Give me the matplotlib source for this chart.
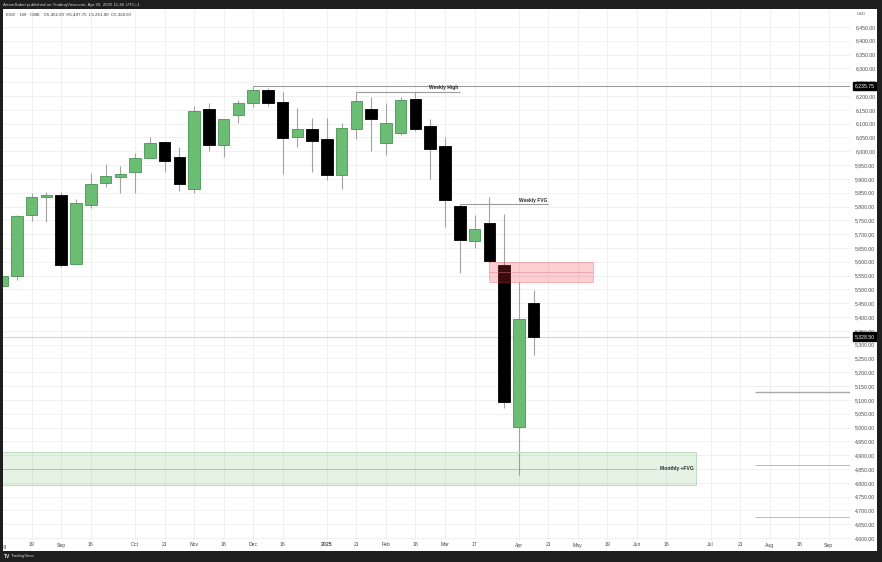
import matplotlib
matplotlib.use("Agg")
import matplotlib.pyplot as plt
import matplotlib.dates as mdates
import matplotlib.transforms as mtransforms
from matplotlib.patches import Rectangle
import numpy as np
import pandas as pd

# ---------------- data ----------------
first_week = "2024-08-05"
opens  = [5513, 5549, 5768, 5834, 5841, 5593, 5807, 5884, 5907, 5926, 5977, 6035, 5980,
          5865, 6153, 6023, 6130, 6176, 6221, 6180, 6052, 6080, 6045, 5913, 6082, 6152,
          6031, 6065, 6189, 6092, 6018, 5803, 5676, 5739, 5587, 5003, 5452.50]
highs  = [5552, 5770, 5848, 5854, 5854, 5826, 5920, 5953, 5947, 5993, 6051, 6037, 6017,
          6164, 6176, 6118, 6186, 6235.75, 6229, 6214, 6156, 6119, 6119, 6104, 6214, 6198,
          6174, 6198, 6216, 6116, 6050, 5808, 5769, 5836, 5772, 5528, 5497.75]
lows   = [5510, 5534, 5749, 5745, 5580, 5590, 5794, 5870, 5848, 5848, 5974, 5926, 5856,
          5848, 6001, 5980, 6101, 6161, 6164, 5917, 6017, 5926, 5896, 5862, 6045, 6001,
          5987, 6060, 6075, 5899, 5725, 5560, 5649, 5600, 5072, 4828, 5261.00]
closes = [5548, 5766, 5836, 5842, 5588, 5812, 5881, 5909, 5919, 5977, 6031, 5966, 5883,
          6147, 6024, 6116, 6175, 6221, 6175, 6047, 6080, 6036, 5913, 6083, 6182, 6116,
          6101, 6186, 6080, 6007, 5824, 5678, 5718, 5602, 5093, 5392, 5328.50]

tick_dates = ["2024-08-05", "2024-08-19", "2024-09-02", "2024-09-16", "2024-10-07", "2024-10-21",
              "2024-11-04", "2024-11-18", "2024-12-02", "2024-12-16", "2025-01-06", "2025-01-20",
              "2025-02-03", "2025-02-17", "2025-03-03", "2025-03-17", "2025-04-07", "2025-04-21",
              "2025-05-05", "2025-05-19", "2025-06-02", "2025-06-16", "2025-07-07", "2025-07-21",
              "2025-08-04", "2025-08-18", "2025-09-01"]
tick_labels = ["Aug", "19", "Sep", "16", "Oct", "21", "Nov", "18", "Dec", "16", "2025", "21",
               "Feb", "18", "Mar", "17", "Apr", "21", "May", "19", "Jun", "16", "Jul", "21",
               "Aug", "18", "Sep"]
price_ticks = [4600 + 50 * k for k in range(38)]

weekly_high = 6235.75
weekly_high_start = "2024-12-02"
weekly_high2 = 6214
weekly_high2_span = ("2025-01-20", "2025-03-10")
weekly_fvg = 5808
weekly_fvg_span = ("2025-03-10", "2025-04-21")
fvg_box = ("2025-03-24", "2025-05-12", 5526, 5600)
monthly_fvg_box = ("2024-07-15", "2025-06-30", 4792, 4910)
right_lines = [(5128, "#a8a8a8", 1.0), (4863, "#eaa3ab", 0.7), (4677, "#eaa3ab", 0.7)]
right_lines_start = "2025-07-28"
last_price = 5328.50

header = "ArtemSabet published on TradingView.com, Apr 20, 2025 11:46 UTC+1"
legend = "ES1! \u00b7 1W \u00b7 CME   O5,452.50  H5,497.75  L5,261.00  C5,328.50"

# ---------------- figure ----------------
W, H, DPI = 882, 562, 100
plt.rcParams['font.family'] = ['Liberation Sans', 'DejaVu Sans']
fig = plt.figure(figsize=(W / DPI, H / DPI), dpi=DPI, facecolor="white")

ax_l, ax_r, ax_t, ax_b = 3, 850, 9.5, 540
ax = fig.add_axes([ax_l / W, 1 - ax_b / H, (ax_r - ax_l) / W, (ax_b - ax_t) / H])
ax.set_facecolor("white")

dates = pd.date_range(first_week, periods=len(opens), freq="7D")
x = mdates.date2num(dates)
x0 = mdates.date2num(pd.Timestamp(first_week))
px_per_week = 14.76
x_left = x0 + (ax_l - 2.2) / px_per_week * 7
x_right = x0 + (ax_r - 2.2) / px_per_week * 7

def dn(s):
    return mdates.date2num(pd.Timestamp(s))

# wicks & bodies
green_fill, green_edge = "#6cbd74", "#4a9352"
for xi, o, h, l, c in zip(x, opens, highs, lows, closes):
    ax.vlines(xi, l, h, color="#a3a3a3", lw=0.8, zorder=2)
    up = c >= o
    bot = min(o, c)
    hgt = max(abs(c - o), 2.5)
    ax.bar(xi, hgt, bottom=bot, width=7 * 0.78,
           color=green_fill if up else "black",
           edgecolor=green_edge if up else "black", linewidth=0.6, zorder=3)

# grid / ticks
ax.set_xticks([dn(d) for d in tick_dates])
ax.set_xticklabels(tick_labels)
ax.set_yticks(price_ticks)
ax.set_yticklabels([f"{p:,.2f}" for p in price_ticks])
ax.grid(True, color="#f0f0f0", lw=0.7, zorder=0)
ax.set_axisbelow(True)
for lbl in ax.get_xticklabels():
    if lbl.get_text() == "2025":
        lbl.set_fontweight("bold")

ax.set_xlim(x_left, x_right)
ax.set_ylim(4593, 6513)
for s in ax.spines.values():
    s.set_visible(False)
ax.yaxis.tick_right()
ax.tick_params(axis="x", length=0, pad=1.8, labelsize=3.7, labelcolor="#4a4a4a")
ax.tick_params(axis="y", length=0, pad=3.8, labelsize=3.7, labelcolor="#4a4a4a")
for lbl in ax.get_yticklabels():
    lbl.set_horizontalalignment("left")

# first (partly hidden) month label at the left edge
xblend = mtransforms.blended_transform_factory(ax.transData, ax.transAxes)
ax.text(dn(tick_dates[0]), -6.5 / (ax_b - ax_t), tick_labels[0], transform=xblend,
        ha="center", va="center", fontsize=3.7, color="#4a4a4a", clip_on=False, zorder=1)

# last price line
ax.axhline(last_price, color="#d6d6d6", lw=0.8, zorder=1)

# Weekly high lines
ax.hlines(weekly_high, dn(weekly_high_start), x_right, color="#9c9c9c", lw=0.8, zorder=5)
ax.hlines(weekly_high2, dn(weekly_high2_span[0]), dn(weekly_high2_span[1]), color="#9c9c9c", lw=0.8, zorder=5)
ax.text(dn(weekly_high2_span[1]) - 0.5, weekly_high2 + 6, "Weekly High", ha="right", va="bottom",
        fontsize=3.5, fontweight="bold", color="#2a2a2a", zorder=6)

# Weekly FVG line
ax.hlines(weekly_fvg, dn(weekly_fvg_span[0]), dn(weekly_fvg_span[1]), color="#9c9c9c", lw=0.8, zorder=5)
ax.text(dn(weekly_fvg_span[1]) - 0.5, weekly_fvg + 6, "Weekly FVG", ha="right", va="bottom",
        fontsize=3.5, fontweight="bold", color="#2a2a2a", zorder=6)

# Pink FVG box
b0, b1, lo, hi = fvg_box
ax.add_patch(Rectangle((dn(b0), lo), dn(b1) - dn(b0), hi - lo,
                       facecolor=(242 / 255, 54 / 255, 69 / 255, 0.24),
                       edgecolor=(242 / 255, 54 / 255, 69 / 255, 0.30), lw=0.7, zorder=4))
ax.hlines((lo + hi) / 2, dn(b0), dn(b1), color="#e0707c", lw=0.6, linestyles=(0, (1.2, 1.2)), zorder=4)

# Monthly FVG box
m0, m1, mlo, mhi = monthly_fvg_box
ax.add_patch(Rectangle((dn(m0), mlo), dn(m1) - dn(m0), mhi - mlo,
                       facecolor=(76 / 255, 175 / 255, 80 / 255, 0.15),
                       edgecolor="#c2dcc3", lw=0.8, zorder=4))
mmid = (mlo + mhi) / 2
ax.hlines(mmid, dn(m0), dn(m1) - 2.7 * 7, color="#8a8a8a", lw=0.6, linestyles=(0, (1.2, 1.2)), zorder=4)
ax.text(dn(m1) - 1.0, mmid, "Monthly +FVG", ha="right", va="center",
        fontsize=3.6, fontweight="bold", color="#2a2a2a", zorder=6)

# right-hand horizontal lines
for lvl, col, lw in right_lines:
    ax.hlines(lvl, dn(right_lines_start), x_right, color=col, lw=lw, zorder=5)

# price boxes on the scale
blend = mtransforms.blended_transform_factory(ax.transAxes, ax.transData)
for p in (weekly_high, last_price):
    ax.text(1.0 + 4.5 / (ax_r - ax_l), p, f"{p:,.2f}", transform=blend, ha="left", va="center",
            fontsize=3.7, color="white", zorder=10, clip_on=False,
            bbox=dict(boxstyle="square,pad=0.35", facecolor="black", edgecolor="black"))

# frame (dark borders)
dark = "#1e1e1e"
for (x_, y_, w_, h_) in [(0, 0, W, 9), (0, 551, W, 11), (0, 0, 3, H), (877, 0, 5, H)]:
    fig.add_artist(Rectangle((x_ / W, 1 - (y_ + h_) / H), w_ / W, h_ / H,
                             transform=fig.transFigure, facecolor=dark, edgecolor="none", zorder=20))

fig.text(3 / W, 1 - 4.8 / H, header, fontsize=3.2, color="#cfcfcf", va="center", ha="left", zorder=21)
fig.text(6 / W, 1 - 14.3 / H, legend, fontsize=3.2, color="#333333", va="center", ha="left", zorder=21)
fig.text(857 / W, 1 - 14.3 / H, "USD", fontsize=3.0, color="#555555", va="center", ha="left", zorder=21)
fig.text(3.5 / W, 1 - 556.5 / H, "TV", fontsize=3.6, color="#e8e8e8", fontweight="bold",
         va="center", ha="left", zorder=21)
fig.text(11 / W, 1 - 556.5 / H, "TradingView", fontsize=3.2, color="#d0d0d0",
         va="center", ha="left", zorder=21)

fig.savefig("out.png", dpi=DPI, facecolor="white")
